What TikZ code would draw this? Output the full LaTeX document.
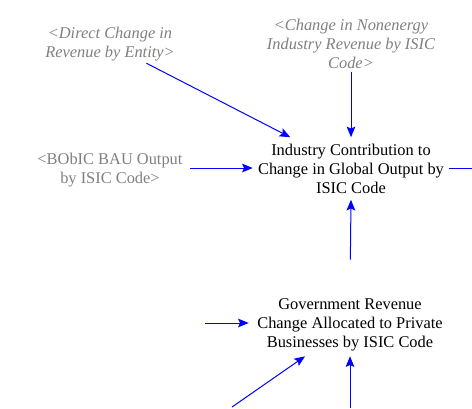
\documentclass[tikz,border=0pt]{standalone}
\usepackage{fontspec}
\setmainfont{Liberation Serif}
\newfontfamily\tnr{Liberation Serif}
\usetikzlibrary{arrows.meta}
\definecolor{shadowgray}{RGB}{128,128,128}
\begin{document}
\begin{tikzpicture}[x=0.75pt,y=-0.75pt,
  var/.style={align=center,inner sep=0pt,font=\tnr\fontsize{12.3}{14.25}\selectfont},
  shadowvar/.style={var,text=shadowgray},
  shadowit/.style={shadowvar,font=\tnr\itshape\fontsize{12.3}{14.25}\selectfont},
  link/.style={draw=blue,line width=0.75pt,-{Stealth[length=8pt,width=6.5pt,inset=1.5pt]}},
  plainlink/.style={draw=blue,line width=0.75pt}]
\useasboundingbox (0,0) rectangle (472,408);

\node[shadowit,minimum width=112.5pt,minimum height=27.75pt] (dir) at (110,44.5)
  {<Direct Change in\\Revenue by Entity>};
\node[shadowit,minimum width=142.5pt,minimum height=42.75pt] (non) at (351,43.5)
  {<Change in Nonenergy\\Industry Revenue by ISIC\\Code>};
\node[shadowvar,minimum width=120pt,minimum height=22.5pt] (bob) at (110,170)
  {<BObIC BAU Output\\by ISIC Code>};
\node[var,minimum width=147pt,minimum height=46.5pt] (ind) at (351,168.5)
  {Industry Contribution to\\Change in Global Output by\\ISIC Code};
\node[var,minimum width=151.5pt,minimum height=46.5pt] (gov) at (350,325)
  {Government Revenue\\Change Allocated to Private\\Businesses by ISIC Code};

\coordinate (rightend) at (472,168.5);
\coordinate (bobout) at (190,168);
\coordinate (leftin) at (205,323);
\coordinate (diagin) at (232,407);
\coordinate (botin) at (350,408);

\draw[link] (dir) -- (ind);
\draw[link] (non) -- (ind);
\draw[link] (bob.east |- bobout) -- (ind.west |- bobout);
\draw[plainlink] (ind.east) -- (rightend);
\draw[link,shorten <=25.5pt] (gov.north) -- (ind.south);
\draw[link] (leftin) -- (gov.west |- leftin);
\draw[link] (diagin) -- (gov);
\draw[link] (botin) -- (gov.south);
\end{tikzpicture}
\end{document}
